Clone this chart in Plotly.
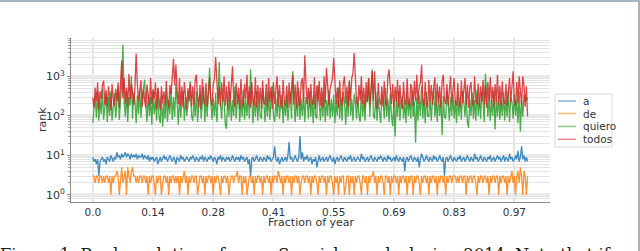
import plotly.graph_objects as go

# ---------------- data ----------------
words = ["a", "de", "quiero", "todos"]
colors = ["#1f77b4", "#ff7f0e", "#2ca02c", "#d62728"]

tick_days = [0, 50, 100, 150, 200, 250, 300, 350]
tick_labels = ["0.0", "0.14", "0.28", "0.41", "0.55", "0.69", "0.83", "0.97"]

rank_a = [
    9, 7, 8, 6, 8, 3, 7, 8, 9, 7, 8, 6, 9, 8, 7, 10, 8, 7, 9, 8,
    12, 9, 10, 8, 11, 9, 10, 12, 9, 11, 10, 8, 11, 9, 10, 9, 11, 8, 10, 9,
    9, 11, 8, 10, 9, 8, 10, 7, 9, 8, 9, 7, 8, 9, 6, 8, 9, 7, 8, 10,
    8, 9, 7, 8, 10, 8, 7, 9, 8, 6, 9, 8, 7, 10, 8, 9, 7, 8, 9, 8,
    7, 9, 8, 10, 8, 7, 9, 8, 7, 9, 8, 10, 7, 9, 8, 7, 9, 8, 10, 8,
    7, 9, 8, 6, 9, 8, 10, 7, 9, 8, 7, 9, 8, 9, 7, 8, 10, 8, 7, 9,
    8, 9, 7, 10, 8, 9, 7, 8, 9, 6, 8, 3, 8, 9, 7, 8, 10, 8, 7, 9,
    8, 7, 9, 8, 7, 10, 8, 9, 7, 8, 9, 17, 8, 7, 9, 6, 8, 9, 7, 8,
    9, 7, 10, 22, 8, 9, 7, 8, 10, 8, 7, 9, 31, 8, 12, 7, 9, 8, 10, 7,
    8, 9, 6, 8, 7, 9, 5, 8, 10, 7, 8, 9, 7, 8, 9, 7, 8, 10, 8, 7,
    9, 6, 8, 9, 7, 8, 10, 8, 7, 9, 8, 7, 9, 8, 10, 7, 8, 9, 7, 8,
    9, 8, 7, 11, 8, 9, 7, 8, 9, 7, 8, 10, 8, 7, 9, 8, 7, 9, 8, 10,
    8, 7, 9, 8, 7, 10, 8, 9, 7, 8, 9, 7, 10, 8, 7, 9, 8, 7, 9, 4,
    8, 9, 7, 8, 10, 8, 7, 9, 8, 7, 9, 5, 8, 11, 9, 7, 8, 10, 8, 7,
    9, 8, 7, 10, 8, 9, 7, 8, 10, 8, 7, 9, 3, 8, 9, 7, 8, 10, 8, 7,
    9, 8, 7, 9, 8, 10, 7, 8, 9, 7, 8, 10, 8, 7, 9, 8, 7, 11, 8, 9,
    7, 8, 10, 8, 7, 9, 8, 7, 9, 8, 10, 7, 8, 9, 7, 8, 10, 8, 9, 7,
    8, 10, 7, 9, 8, 7, 11, 8, 9, 7, 8, 10, 8, 13, 7, 9, 17, 8, 10, 7,
    9, 7,
]

rank_de = [
    3, 3, 2, 3, 3, 2, 3, 3, 2, 3, 2, 3, 3, 2, 3, 1, 3, 2, 3, 3,
    4, 3, 1, 3, 5, 2, 3, 4, 1, 5, 3, 2, 4, 5, 3, 3, 2, 3, 2, 3,
    3, 2, 3, 3, 2, 3, 1, 3, 2, 3, 3, 2, 1, 3, 2, 3, 3, 1, 2, 3,
    3, 2, 3, 1, 3, 2, 3, 3, 2, 3, 2, 3, 1, 3, 2, 3, 4, 2, 3, 1,
    3, 2, 3, 3, 2, 3, 3, 1, 2, 3, 3, 2, 3, 1, 3, 2, 3, 3, 2, 3,
    1, 3, 2, 3, 3, 2, 1, 3, 2, 3, 3, 2, 3, 1, 2, 3, 3, 2, 3, 3,
    4, 2, 3, 3, 1, 3, 2, 3, 1, 2, 3, 3, 2, 3, 1, 3, 2, 3, 3, 2,
    3, 1, 3, 2, 3, 3, 2, 3, 1, 3, 2, 3, 3, 2, 4, 3, 2, 3, 1, 3,
    2, 3, 3, 2, 3, 1, 3, 2, 3, 3, 2, 3, 1, 2, 3, 3, 2, 3, 3, 2,
    3, 1, 3, 2, 3, 3, 2, 1, 3, 2, 3, 3, 2, 3, 1, 3, 2, 3, 3, 2,
    1, 3, 2, 3, 1, 3, 2, 3, 3, 1, 2, 3, 3, 1, 3, 2, 3, 1, 3, 2,
    3, 3, 2, 1, 3, 3, 2, 3, 1, 3, 2, 3, 3, 4, 2, 3, 1, 3, 2, 3,
    3, 2, 1, 3, 3, 2, 3, 1, 3, 2, 3, 3, 2, 3, 1, 3, 2, 3, 3, 2,
    3, 1, 3, 2, 3, 3, 1, 3, 2, 3, 3, 2, 1, 3, 2, 3, 3, 2, 3, 1,
    3, 2, 3, 3, 2, 3, 1, 3, 2, 3, 3, 2, 3, 1, 3, 2, 3, 3, 2, 3,
    3, 3, 2, 3, 2, 3, 3, 2, 3, 3, 1, 3, 2, 3, 3, 2, 3, 3, 2, 1,
    3, 2, 3, 3, 2, 3, 3, 2, 3, 1, 3, 2, 3, 3, 2, 3, 3, 1, 3, 2,
    3, 3, 2, 3, 1, 3, 2, 3, 4, 2, 3, 1, 3, 4, 2, 5, 3, 1, 4, 3,
    1, 3,
]

rank_quiero = [
    67, 180, 320, 90, 400, 75, 260, 110, 480, 80, 220, 350, 70, 300, 100, 420, 75, 240, 380, 90,
    200, 550, 80, 300, 650, 6300, 220, 95, 420, 70, 300, 180, 1000, 85, 380, 240, 65, 330, 110, 450,
    90, 280, 600, 830, 200, 70, 350, 100, 300, 60, 420, 110, 260, 75, 500, 95, 65, 320, 53, 220,
    85, 380, 70, 260, 110, 460, 80, 300, 95, 650, 220, 60, 340, 90, 250, 420, 75, 300, 100, 230,
    360, 750, 100, 75, 280, 95, 420, 70, 240, 350, 85, 220, 550, 70, 300, 95, 400, 1650, 200, 80,
    280, 95, 380, 70, 240, 2300, 200, 85, 340, 260, 60, 47, 300, 95, 420, 75, 250, 100, 560, 85,
    230, 340, 70, 280, 95, 460, 80, 260, 100, 380, 85, 1500, 240, 65, 320, 95, 420, 75, 270, 100,
    85, 500, 220, 70, 300, 95, 360, 80, 250, 580, 100, 70, 280, 95, 430, 85, 230, 340, 65, 260,
    100, 320, 75, 250, 400, 85, 1350, 230, 70, 290, 95, 500, 80, 270, 100, 360, 70, 300, 220, 85,
    420, 95, 270, 65, 340, 100, 85, 600, 230, 75, 290, 95, 380, 70, 250, 100, 460, 85, 270, 95,
    340, 65, 250, 100, 520, 85, 290, 75, 400, 230, 60, 320, 95, 800, 100, 270, 75, 360, 230, 85,
    300, 100, 70, 430, 95, 250, 75, 340, 230, 900, 95, 290, 1500, 100, 85, 400, 75, 270, 100, 65,
    340, 230, 85, 500, 95, 270, 70, 360, 100, 55, 250, 30, 300, 95, 430, 75, 230, 320, 85, 250,
    65, 380, 100, 270, 85, 460, 95, 230, 21, 290, 75, 340, 100, 580, 85, 270, 65, 400, 100, 95,
    300, 75, 250, 500, 95, 230, 70, 350, 100, 270, 33, 320, 95, 85, 430, 230, 75, 290, 100, 360,
    85, 250, 65, 340, 100, 290, 80, 430, 230, 95, 320, 70, 50, 270, 100, 380, 85, 250, 75, 460,
    100, 290, 85, 400, 230, 70, 1170, 270, 95, 340, 75, 250, 100, 430, 45, 290, 95, 320, 80, 250,
    100, 380, 75, 270, 95, 460, 70, 290, 230, 85, 350, 100, 270, 65, 420, 40, 250, 95, 340, 230,
    300, 260,
]

rank_todos = [
    290, 160, 520, 230, 700, 150, 420, 260, 610, 780, 190, 450, 170, 560, 300, 140, 640, 250, 180, 480,
    230, 700, 160, 600, 2500, 280, 900, 200, 520, 170, 1150, 260, 650, 380, 190, 520, 3800, 650, 240, 430,
    800, 170, 460, 250, 160, 620, 300, 180, 900, 200, 480, 260, 700, 150, 520, 230, 140, 560, 210, 420,
    180, 760, 240, 160, 600, 350, 1400, 2800, 600, 2000, 420, 200, 900, 180, 550, 160, 720, 260, 150, 500,
    230, 650, 170, 560, 190, 800, 1100, 280, 160, 600, 150, 850, 240, 190, 680, 170, 520, 900, 250, 180,
    620, 900, 3100, 500, 200, 560, 170, 700, 230, 1000, 180, 560, 160, 750, 220, 600, 1800, 260, 170, 680,
    200, 520, 150, 850, 240, 170, 650, 260, 1100, 190, 560, 160, 720, 230, 180, 950, 160, 600, 210, 520,
    150, 780, 230, 190, 640, 170, 900, 220, 540, 150, 720, 200, 480, 1000, 170, 600, 230, 150, 820, 240,
    180, 580, 160, 700, 210, 500, 1100, 190, 620, 160, 750, 230, 180, 680, 900, 220, 3400, 700, 200, 520,
    170, 640, 220, 190, 950, 150, 580, 230, 760, 180, 520, 160, 1000, 210, 1650, 600, 190, 480, 700, 900,
    2900, 620, 200, 520, 160, 780, 230, 180, 680, 1000, 210, 560, 170, 750, 240, 900, 1200, 3900, 650, 220,
    180, 600, 240, 1000, 200, 520, 160, 720, 220, 900, 180, 600, 1350, 230, 1350, 200, 150, 680, 240, 190,
    560, 170, 750, 220, 180, 1000, 1500, 520, 200, 640, 160, 550, 230, 820, 170, 600, 210, 150, 720, 240,
    190, 880, 220, 170, 640, 520, 180, 760, 230, 1100, 200, 560, 680, 2000, 240, 180, 720, 220, 160, 820,
    230, 600, 190, 520, 950, 170, 660, 220, 560, 160, 750, 1100, 240, 200, 640, 180, 520, 1000, 210, 560,
    900, 230, 180, 680, 240, 170, 780, 210, 560, 900, 190, 620, 160, 520, 720, 220, 180, 1000, 240, 200,
    660, 170, 560, 230, 820, 190, 600, 160, 720, 240, 950, 210, 540, 170, 640, 220, 1100, 190, 580, 170,
    750, 230, 200, 650, 180, 550, 900, 220, 680, 1350, 240, 180, 720, 210, 1000, 520, 190, 1000, 600, 170,
    560, 97,
]

series = [rank_a, rank_de, rank_quiero, rank_todos]
caption = "Figure 1: Rank evolution of some Spanish words during 2014. Note that if"

# ---------------- figure ----------------
W, H = 640, 251
L, R, T, B = 71, 90, 38, 49
PW, PH = W - L - R, H - T - B


def px_x(p):
    return (p - L) / PW


def px_y(p):
    return (H - B - p) / PH


fig = go.Figure()
for name, vals, col in zip(words, series, colors):
    fig.add_trace(go.Scatter(
        x=list(range(len(vals))), y=vals, mode="lines", name=name,
        line=dict(color=col, width=1.3), opacity=0.85, showlegend=False,
        hoverinfo="skip",
    ))

minor_vals = [d * 10 ** k for k in range(-1, 4) for d in range(2, 10)]

fig.update_layout(
    width=W, height=H,
    margin=dict(l=L, r=R, t=T, b=B, pad=0),
    paper_bgcolor="white", plot_bgcolor="white",
    font=dict(family="DejaVu Sans", color="#333333", size=10),
    xaxis=dict(
        range=[-18.1, 379.6], tickmode="array", tickvals=tick_days, ticktext=tick_labels,
        showgrid=True, gridcolor="#e6e6e6", gridwidth=1.5, zeroline=False,
        showline=True, linecolor="#8c8c8c", linewidth=1, ticks="",
        tickfont=dict(size=10.5, color="#333333"),
    ),
    yaxis=dict(
        type="log", range=[-0.18, 3.97], tickmode="array",
        tickvals=[1, 10, 100, 1000],
        ticktext=["10<sup>0</sup>", "10<sup>1</sup>", "10<sup>2</sup>", "10<sup>3</sup>"],
        showgrid=True, gridcolor="#eaeaea", gridwidth=2.5, zeroline=False,
        showline=True, linecolor="#8c8c8c", linewidth=1,
        ticks="outside", ticklen=3, tickcolor="#8c8c8c",
        tickfont=dict(size=11, color="#333333"),
        minor=dict(tickmode="array", tickvals=minor_vals, showgrid=True,
                   gridcolor="#e3e3e3", gridwidth=0.8,
                   ticks="outside", ticklen=2, tickcolor="#a0a0a0"),
    ),
)

annotations = [
    dict(text="rank", x=px_x(42), y=px_y(120), xref="paper", yref="paper",
         textangle=-90, showarrow=False, font=dict(size=11, color="#333333"),
         xanchor="center", yanchor="middle"),
    dict(text="Fraction of year", x=px_x(311), y=px_y(222), xref="paper", yref="paper",
         showarrow=False, font=dict(size=11, color="#333333"),
         xanchor="center", yanchor="middle"),
    dict(text=caption, x=px_x(-2), y=px_y(243), xref="paper", yref="paper",
         showarrow=False, font=dict(family="DejaVu Serif", size=16.2, color="#1a1a1a"),
         xanchor="left", yanchor="top"),
]

shapes = []
# legend box
lx0, lx1, ly0, ly1 = 555, 612, 94, 147
shapes.append(dict(type="rect", xref="paper", yref="paper",
                   x0=px_x(lx0), x1=px_x(lx1), y0=px_y(ly0), y1=px_y(ly1),
                   line=dict(color="#d9d9d9", width=1), fillcolor="rgba(255,255,255,0.85)",
                   layer="above"))
row_y = [101, 113.5, 126.5, 139.3]
for name, col, yy in zip(words, colors, row_y):
    shapes.append(dict(type="line", xref="paper", yref="paper",
                       x0=px_x(558), x1=px_x(576), y0=px_y(yy), y1=px_y(yy),
                       line=dict(color=col, width=1.5), opacity=0.55, layer="above"))
    annotations.append(dict(text=name, x=px_x(581), y=px_y(yy), xref="paper", yref="paper",
                            showarrow=False, xanchor="left", yanchor="middle",
                            font=dict(size=10.5, color="#333333")))

# screenshot frame (top and right edges)
shapes.append(dict(type="rect", xref="paper", yref="paper",
                   x0=px_x(0), x1=px_x(640), y0=px_y(2), y1=px_y(0),
                   line=dict(width=0), fillcolor="#a6b3c5", layer="above"))
shapes.append(dict(type="rect", xref="paper", yref="paper",
                   x0=px_x(638), x1=px_x(640), y0=px_y(251), y1=px_y(0),
                   line=dict(width=0), fillcolor="#a6b3c5", layer="above"))

fig.update_layout(annotations=annotations, shapes=shapes)

fig.write_html(
    "out.html",
    config={"displayModeBar": False},
    post_script="document.body.style.margin='0';document.body.style.padding='0';",
)
